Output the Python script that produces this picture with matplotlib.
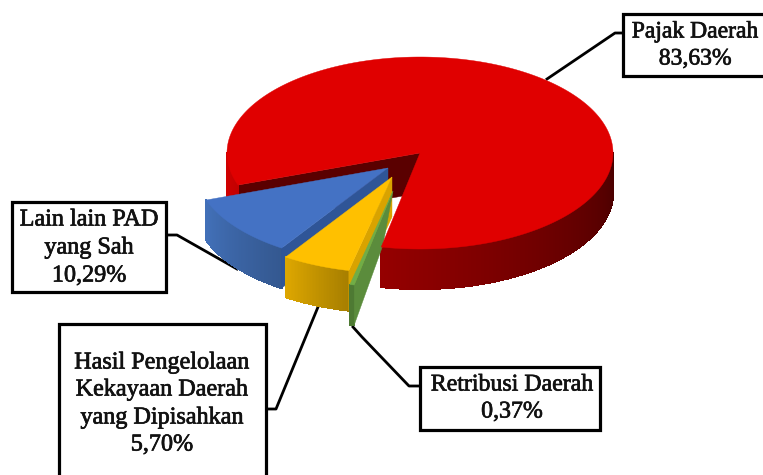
import numpy as np
import matplotlib
matplotlib.use("Agg")
import matplotlib.pyplot as plt
import matplotlib.patheffects as pe
from matplotlib.colors import to_rgb
from matplotlib.patches import Rectangle

categories = ["Pajak Daerah", "Retribusi Daerah",
              "Hasil Pengelolaan\nKekayaan Daerah\nyang Dipisahkan", "Lain lain PAD\nyang Sah"]
values = [83.63, 0.37, 5.70, 10.29]

top_colors = ["#E00000", "#70AD47", "#FFC000", "#4472C4"]
cut_colors = ["#5A0000", "#5B8C3C", "#D9A300", "#2F5597"]
wall_left = ["#D00000", "#4E7A33", "#DDA600", "#4270B8"]
wall_right = ["#480000", "#4E7A33", "#A67E00", "#345890"]

# layout, in figure pixels
W, H = 763, 475
CX, CY, RX, RY, DEPTH = 420, 153, 193, 96, 40
START = 250.5
explode = [(0, 0), (-27, 38), (-28, 24), (-32, 15)]
inner_drop = [(0, DEPTH), (-10, 54), (0, DEPTH), (0, DEPTH)]

boxes = [(623, 14, 160, 62), (12, 202, 154, 90), (59, 324, 207, 170), (420, 367, 180, 63)]
text_pos = [(695, [32, 59]), (512, [385, 412]), (162, [363, 390, 418, 445]), (89, [220, 248, 276])]
font_sizes = [17.0, 17.2, 17.4, 17.4]
leaders = [[(547, 79), (615, 33), (623, 33)],
           [(353, 327), (362, 337), (409, 386), (420, 386)],
           [(318, 307), (276, 409), (266, 409)],
           [(237, 269), (177, 235), (166, 235)]]

fig = plt.figure(figsize=(W / 100, H / 100), dpi=100)
ax = fig.add_axes([0, 0, 1, 1])
ax.set_xlim(0, W)
ax.set_ylim(H, 0)
ax.axis("off")


def pt(theta, off):
    t = np.radians(theta)
    return CX + off[0] + RX * np.sin(t), CY + off[1] - RY * np.cos(t)


def spans():
    total = sum(values)
    a = START
    out = []
    for v in values:
        b = a + 360 * v / total
        out.append((a, b))
        a = b
    return out


def draw_cut(i, a):
    o = explode[i]
    d = inner_drop[i]
    ax0, ay0 = CX + o[0], CY + o[1]
    x, y = pt(a, o)
    ax.fill([ax0, ax0 + d[0], x, x], [ay0, ay0 + d[1], y + DEPTH, y],
            color=cut_colors[i], lw=0.3, zorder=2)


def draw_wall(i, a, b):
    o = explode[i]
    th = np.arange(a, b + 0.5, 0.5)
    th = np.append(th[th < b], b)
    keep = np.cos(np.radians((th[:-1] + th[1:]) / 2)) < 0
    if not keep.any():
        return
    mids = ((th[:-1] + th[1:]) / 2)[keep] % 360
    lo, hi = mids.min(), mids.max()
    cl, cr = np.array(to_rgb(wall_left[i])), np.array(to_rgb(wall_right[i]))
    for t0, t1, k in zip(th[:-1], th[1:], keep):
        if not k:
            continue
        m = ((t0 + t1) / 2) % 360
        f = (hi - m) / max(hi - lo, 1e-6)
        c = cl + (cr - cl) * f
        x0, y0 = pt(t0, o)
        x1, y1 = pt(t1, o)
        ax.fill([x0, x1, x1, x0], [y0, y1, y1 + DEPTH, y0 + DEPTH],
                facecolor=c, edgecolor=c, lw=0.8, antialiased=False, zorder=2)


def draw_top(i, a, b):
    o = explode[i]
    th = np.linspace(a, b, max(int(b - a) * 2, 6))
    xs, ys = pt(th, o)
    ax.fill(np.r_[CX + o[0], xs], np.r_[CY + o[1], ys],
            color=top_colors[i], lw=0.3, zorder=3)


for pts in leaders:
    xs, ys = zip(*pts)
    ax.plot(xs, ys, color="black", lw=2.0, zorder=1, solid_joinstyle="round")

sp = spans()
draw_cut(0, sp[0][0])
draw_wall(0, *sp[0])
for i in (3, 2):
    draw_wall(i, *sp[i])
    draw_cut(i, sp[i][0])
    draw_top(i, *sp[i])
draw_wall(1, *sp[1])
draw_cut(1, sp[1][0])
draw_top(1, *sp[1])
# the large slice's top sits over the thin exploded one
th = np.linspace(*sp[0], 700)
xs, ys = pt(th, explode[0])
ax.fill(np.r_[CX, xs], np.r_[CY, ys], color=top_colors[0], lw=0.3, zorder=4)

for name, val, box, (tx, tys), fs in zip(categories, values, boxes, text_pos, font_sizes):
    ax.add_patch(Rectangle((box[0], box[1]), box[2], box[3], fc="white", ec="black",
                           lw=2.3, zorder=5))
    lines = name.split("\n") + [f"{val:.2f}".replace(".", ",") + "%"]
    for ln, ty in zip(lines, tys):
        ax.text(tx, ty, ln, ha="center", va="center", family="Liberation Serif",
                fontsize=fs, color="#111111", zorder=6,
                path_effects=[pe.withStroke(linewidth=0.5, foreground="#111111")])

fig.savefig("out.png", dpi=100)
